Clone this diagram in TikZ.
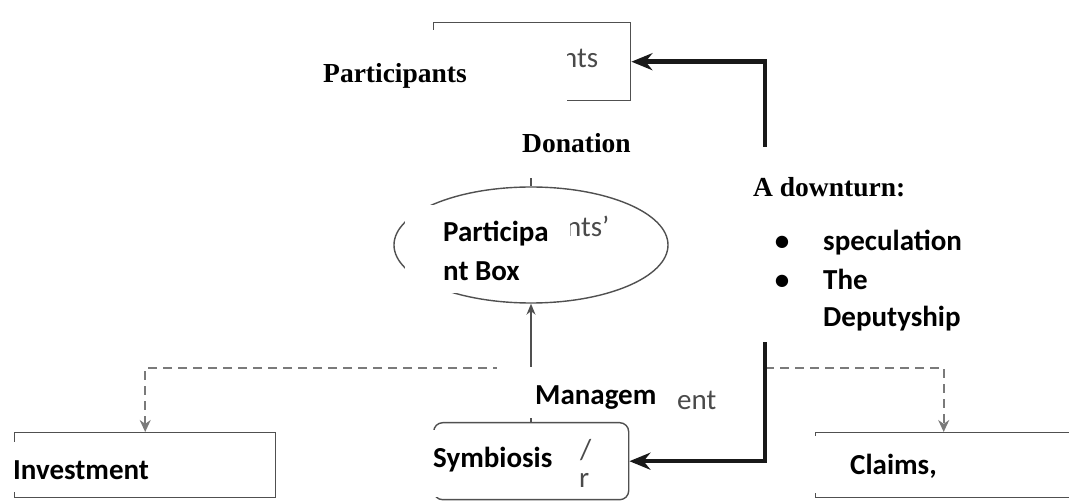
\documentclass[tikz,border=0pt]{standalone}
\usepackage{fontspec}
\newfontfamily\carl{Carlito}
\newfontfamily\timesl{Liberation Serif}
\usetikzlibrary{arrows.meta,shapes.geometric}
\definecolor{edgec}{HTML}{505050}
\definecolor{ghostc}{HTML}{4A4A4A}
\definecolor{dashc}{HTML}{7A7A7A}
\begin{document}
\begin{tikzpicture}[x=1pt,y=-1pt,
  plainbox/.style={draw=edgec, line width=1.4pt, inner sep=0, anchor=north west},
  ghost/.style={font=\carl\fontsize{29}{34}\selectfont, text=ghostc, inner sep=0, anchor=base west},
  lab/.style={font=\carl\bfseries\fontsize{29}{34}\selectfont, inner sep=0, anchor=base west},
  serifl/.style={font=\timesl\bfseries\fontsize{27.5}{32}\selectfont, inner sep=0, anchor=base west},
  bul/.style={font=\carl\bfseries\fontsize{29}{34}\selectfont, inner sep=0, anchor=base},
  mask/.style={fill=white},
  heavy/.style={line width=4.6pt, draw=black!90, -{Stealth[length=21pt,width=17pt]}},
  slim/.style={draw=edgec, line width=1.4pt, -{Stealth[length=11pt,width=9pt]}},
  dashline/.style={draw=dashc, line width=1.8pt, dash pattern=on 9pt off 6pt, -{Stealth[length=12pt,width=11pt]}},
  plainline/.style={draw=edgec, line width=1.4pt}
]
\useasboundingbox (0,0) rectangle (1069,502);

% boxes and ellipse
\node[plainbox, minimum width=197pt, minimum height=78pt] (part) at (433,22) {};
\node[ellipse, draw=edgec, line width=1.4pt, minimum width=274pt, minimum height=116pt, inner sep=0] (ell) at (531,245) {};
\node[plainbox, rounded corners=9pt, minimum width=195pt, minimum height=77pt] (sym) at (433,422) {};
\node[plainbox, minimum width=261pt, minimum height=65pt] (inv) at (14,432) {};
\node[plainbox, minimum width=256pt, minimum height=65pt] (clm) at (815,432) {};

% junctions
\coordinate (dn) at (765,250);
\coordinate (jl) at (532,368);
\coordinate (jr) at (765,368);

% connectors
\draw[dashline] (jl) -| (inv.north);
\draw[dashline] (jr) -| (clm.north);
\draw[plainline] (ell.north |- part.south) -- (ell.north);
\draw[slim] (ell.south |- sym.north) -- (ell.south);
\draw[heavy] (dn) |- (part.east);
\draw[heavy] (dn) |- (sym.east);

% faded original labels
\node[ghost] (g1) at (562,68) {nts};
\node[ghost] (g2) at (566,237) {nts’};
\node[ghost] (g3) at (677,410) {ent};
\node[ghost] (g4) at (580,460) {/};
\node[ghost] (g5) at (579,488) {r};

% white cover panels
\fill[mask] (315,30) rectangle (567,106);
\fill[mask] (505,106) rectangle (660,178);
\fill[mask] (405,205) rectangle (570,293);
\fill[mask] (745,147) rectangle (990,342);
\fill[mask] (497,367) rectangle (660,418);
\fill[mask] (430,430) rectangle (570,497);
\fill[mask] (10,442) rectangle (220,492);
\fill[mask] (812,436) rectangle (1020,493);

% overlay texts
\node[serifl] (t1) at (323,83) {Participants};
\node[serifl] (t2) at (522,153) {Donation};
\node[serifl] (t3) at (753,197) {A downturn:};
\node[bul] (b1) at (782,251) {•};
\node[bul] (b2) at (782,290) {•};
\node[lab] (t4) at (823,251) {speculation};
\node[lab] (t5) at (823,290) {The};
\node[lab] (t6) at (823,327) {Deputyship};
\node[lab] (t7) at (443,242) {Participa};
\node[lab] (t8) at (443,281) {nt Box};
\node[lab] (t9) at (535,405) {Managem};
\node[lab] (t10) at (433,468) {Symbiosis};
\node[lab] (t11) at (13,480) {Investment};
\node[lab] (t12) at (850,475) {Claims,};
\end{tikzpicture}
\end{document}
